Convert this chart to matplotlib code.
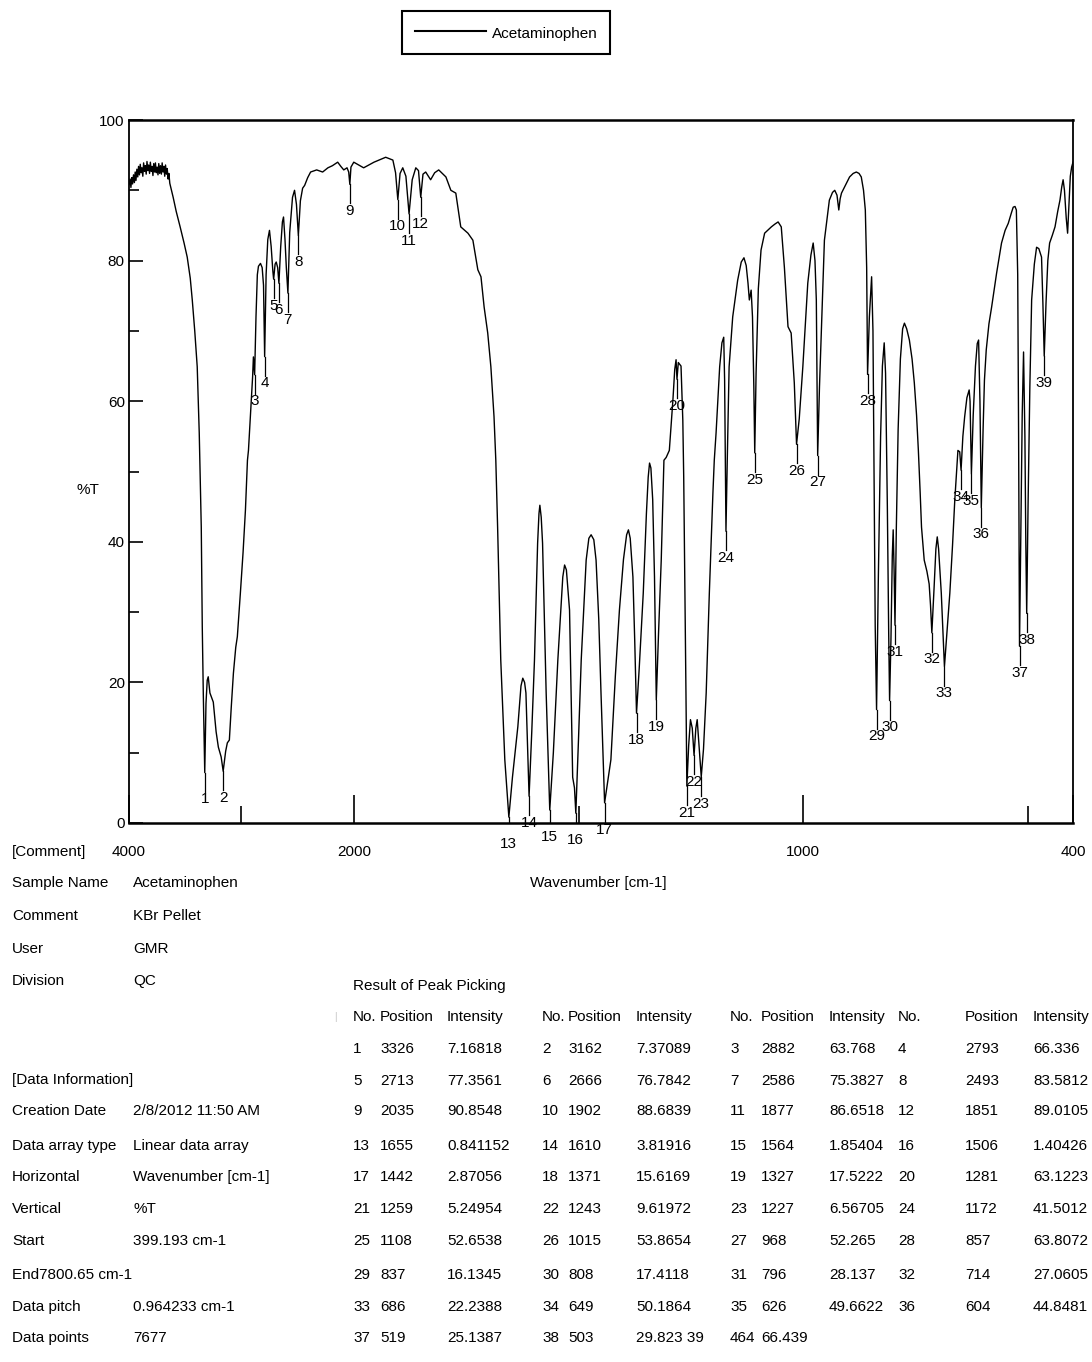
import numpy as np
import matplotlib.pyplot as plt

plt.rcParams['font.family'] = ['Liberation Sans', 'DejaVu Sans']
FS = 11

# IR trace: wavenumber (cm-1) and %T
wavenumber = [
    4000, 3990, 3983, 3975, 3968, 3960, 3952, 3945, 3938, 3930, 3922, 3915, 3907, 3900,
    3892, 3885, 3877, 3870, 3862, 3855, 3847, 3840, 3832, 3825, 3817, 3810, 3802, 3795,
    3787, 3780, 3772, 3765, 3757, 3750, 3742, 3735, 3727, 3720, 3712, 3705, 3697, 3690,
    3682, 3675, 3667, 3660, 3652, 3645, 3637, 3625, 3607, 3580, 3545, 3510, 3482, 3455,
    3437, 3415, 3393, 3375, 3357, 3348, 3339, 3326, 3315, 3304, 3295, 3280, 3250, 3225,
    3205, 3180, 3162, 3140, 3125, 3107, 3090, 3071, 3050, 3036, 3009, 2985, 2964, 2946,
    2937, 2911, 2900, 2893, 2887, 2882, 2870, 2858, 2848, 2830, 2815, 2803, 2793, 2780,
    2765, 2750, 2735, 2720, 2713, 2700, 2690, 2677, 2666, 2650, 2635, 2625, 2612, 2600,
    2586, 2570, 2545, 2527, 2510, 2493, 2475, 2455, 2437, 2410, 2384, 2330, 2277, 2230,
    2190, 2143, 2115, 2089, 2060, 2045, 2035, 2025, 2000, 1978, 1955, 1929, 1913, 1907,
    1902, 1897, 1891, 1884, 1877, 1870, 1862, 1856, 1851, 1846, 1840, 1829, 1820, 1811,
    1795, 1784, 1773, 1762, 1746, 1735, 1724, 1717, 1710, 1702, 1695, 1688, 1684, 1680,
    1673, 1664, 1655, 1647, 1635, 1628, 1624, 1620, 1617, 1610, 1604, 1598, 1591, 1588,
    1586, 1583, 1580, 1572, 1564, 1556, 1546, 1535, 1531, 1527, 1520, 1513, 1509, 1506,
    1500, 1494, 1483, 1477, 1472, 1466, 1461, 1455, 1450, 1442, 1436, 1428, 1418, 1409,
    1400, 1393, 1389, 1385, 1379, 1375, 1371, 1365, 1356, 1349, 1345, 1342, 1339, 1335,
    1331, 1327, 1322, 1316, 1310, 1305, 1298, 1290, 1286, 1283, 1281, 1278, 1272, 1268,
    1266, 1264, 1261, 1259, 1255, 1251, 1247, 1243, 1239, 1236, 1232, 1227, 1222, 1216,
    1209, 1201, 1198, 1194, 1186, 1181, 1177, 1175, 1172, 1169, 1165, 1157, 1146, 1138,
    1132, 1127, 1123, 1120, 1116, 1113, 1110, 1108, 1105, 1100, 1094, 1086, 1071, 1063,
    1056, 1049, 1042, 1034, 1027, 1020, 1015, 1009, 1001, 990, 983, 978, 974, 971,
    968, 964, 960, 953, 942, 935, 930, 925, 921, 918, 915, 908, 897, 889,
    882, 876, 871, 866, 862, 859, 857, 853, 848, 845, 842, 840, 837, 833,
    828, 824, 820, 817, 813, 810, 808, 805, 802, 800, 798, 796, 793, 789,
    784, 779, 775, 770, 764, 758, 753, 748, 744, 740, 737, 731, 725, 720,
    717, 714, 709, 705, 702, 699, 693, 686, 680, 674, 668, 663, 656, 652,
    649, 645, 641, 636, 631, 629, 626, 622, 617, 613, 610, 607, 604, 600,
    597, 593, 587, 581, 570, 559, 551, 544, 537, 533, 529, 526, 523, 521,
    519, 516, 513, 510, 507, 505, 503, 500, 496, 492, 486, 481, 476, 470,
    467, 464, 460, 456, 452, 446, 440, 434, 429, 425, 422, 419, 415, 412,
    409, 406, 403, 400]
transmittance = [
    90.8, 91.6, 90.4, 91.8, 90.9, 92.2, 91.1, 92.6, 91.4, 93.0, 91.9, 93.4, 92.2, 93.7,
    92.5, 93.2, 92.0, 93.9, 92.7, 93.5, 92.3, 94.1, 92.8, 93.6, 92.4, 94.0, 92.7, 93.4,
    92.1, 93.8, 92.6, 93.9, 92.5, 93.3, 92.2, 93.8, 92.4, 93.5, 92.3, 93.9, 92.6, 93.4,
    92.0, 93.6, 92.3, 93.1, 91.6, 92.4, 91.0, 90.2, 89.0, 87.0, 84.8, 82.5, 80.5, 77.5,
    74.4, 70.0, 64.9, 55.5, 42.1, 27.9, 18.5, 7.17, 17.0, 20.3, 20.8, 18.5, 17.2, 13.0,
    10.8, 9.4, 7.37, 10.2, 11.4, 11.8, 16.5, 21.3, 25.0, 26.5, 32.7, 38.5, 44.5, 51.6,
    53.0, 60.2, 63.5, 66.3, 65.0, 63.77, 72.0, 78.0, 79.2, 79.6, 79.0, 76.5, 66.34, 78.0,
    83.0, 84.3, 82.0, 78.5, 77.36, 79.5, 79.8, 79.0, 76.78, 82.0, 85.5, 86.2, 83.0, 79.0,
    75.38, 84.0, 89.0, 90.0, 88.0, 83.58, 88.5, 90.3, 90.7, 91.8, 92.6, 92.9, 92.6, 93.2,
    93.5, 94.0, 93.4, 92.9, 93.2, 92.6, 90.85, 93.3, 94.0, 93.2, 94.0, 94.7, 94.3, 92.5,
    88.68, 92.4, 93.2, 92.0, 86.65, 91.5, 93.2, 92.8, 89.01, 92.3, 92.6, 91.5, 92.5, 92.9,
    91.9, 90.0, 89.6, 84.8, 83.9, 82.9, 78.7, 77.7, 73.4, 69.7, 64.9, 57.8, 51.6, 42.1,
    23.2, 9.0, 0.84, 6.5, 13.7, 19.5, 20.6, 20.0, 18.5, 3.82, 13.0, 23.2, 39.8, 44.0,
    45.2, 43.5, 39.8, 18.5, 1.85, 10.0, 23.2, 35.0, 36.7, 36.0, 30.3, 6.5, 5.0, 1.40,
    12.0, 23.2, 37.4, 40.5, 41.0, 40.3, 37.4, 29.0, 18.5, 2.87, 5.5, 9.0, 21.0, 30.3,
    37.5, 41.0, 41.7, 40.5, 35.0, 26.0, 15.62, 22.0, 32.7, 44.0, 49.2, 51.2, 50.5, 46.0,
    35.0, 17.52, 27.0, 37.4, 51.6, 52.0, 53.0, 60.2, 64.5, 65.9, 63.12, 65.5, 65.0, 57.3,
    49.2, 37.4, 18.5, 5.25, 11.0, 14.7, 13.5, 9.62, 13.5, 14.7, 11.0, 6.57, 10.5, 18.5,
    32.7, 47.0, 51.6, 55.5, 64.9, 68.3, 69.1, 63.0, 41.5, 52.0, 64.9, 72.0, 77.2, 79.8,
    80.4, 79.3, 76.8, 74.4, 75.8, 72.0, 62.0, 52.65, 64.0, 76.0, 81.5, 83.9, 84.8, 85.2,
    85.5, 84.8, 79.0, 70.6, 69.7, 62.6, 53.87, 57.5, 64.9, 76.8, 80.8, 82.5, 80.0, 74.4,
    52.27, 62.0, 69.7, 82.9, 88.6, 89.7, 90.0, 89.3, 87.2, 88.8, 89.6, 90.5, 91.9, 92.4,
    92.6, 92.4, 91.9, 90.0, 87.2, 79.0, 63.81, 72.0, 77.7, 70.0, 45.0, 28.0, 16.13, 35.0,
    55.0, 65.0, 68.3, 64.0, 45.0, 27.0, 17.41, 26.0, 38.0, 41.7, 36.0, 28.14, 42.0, 56.0,
    66.0, 70.3, 71.1, 70.3, 68.7, 66.0, 62.6, 58.0, 53.0, 47.0, 42.1, 37.4, 35.8, 34.0,
    31.0, 27.06, 33.5, 39.0, 40.7, 39.0, 32.7, 22.24, 27.5, 32.7, 39.5, 45.9, 53.0, 52.8,
    50.19, 55.0, 57.8, 60.5, 61.6, 60.0, 49.66, 58.0, 65.0, 68.2, 68.7, 60.0, 44.85, 56.0,
    63.0, 67.3, 71.0, 73.4, 78.2, 82.5, 84.3, 85.3, 86.8, 87.6, 87.7, 87.2, 78.0, 55.0,
    25.14, 42.0, 58.0, 67.0, 55.0, 40.0, 29.82, 45.0, 62.0, 74.4, 79.5, 81.9, 81.7, 80.5,
    74.0, 66.44, 74.0, 80.0, 82.5, 83.6, 84.8, 87.0, 88.6, 90.5, 91.5, 90.0, 86.0, 83.9,
    88.0, 92.0, 93.3, 94.0]

# result of peak picking
peak_pos = [3326, 3162, 2882, 2793, 2713, 2666, 2586, 2493, 2035, 1902, 1877, 1851,
            1655, 1610, 1564, 1506, 1442, 1371, 1327, 1281, 1259, 1243, 1227, 1172,
            1108, 1015, 968, 857, 837, 808, 796, 714, 686, 649, 626, 604, 519, 503, 464]
peak_int = [7.16818, 7.37089, 63.768, 66.336, 77.3561, 76.7842, 75.3827, 83.5812,
            90.8548, 88.6839, 86.6518, 89.0105, 0.841152, 3.81916, 1.85404, 1.40426,
            2.87056, 15.6169, 17.5222, 63.1223, 5.24954, 9.61972, 6.56705, 41.5012,
            52.6538, 53.8654, 52.265, 63.8072, 16.1345, 17.4118, 28.137, 27.0605,
            22.2388, 50.1864, 49.6622, 44.8481, 25.1387, 29.823, 66.439]

# sample / data information block
sample_info = [('[Comment]', ''), ('Sample Name', 'Acetaminophen'), ('Comment', 'KBr Pellet'),
               ('User', 'GMR'), ('Division', 'QC')]
data_info = [('[Data Information]', ''), ('Creation Date', '2/8/2012 11:50 AM'),
             ('Data array type', 'Linear data array'), ('Horizontal', 'Wavenumber [cm-1]'),
             ('Vertical', '%T'), ('Start', '399.193 cm-1'), ('End7800.65 cm-1', ''),
             ('Data pitch', '0.964233 cm-1'), ('Data points', '7677')]

W, H = 1092, 1362


def px(x, y):
    return x / W, 1 - y / H


# x axis is compressed 4x above 2000 cm-1
def fwd(w):
    w = np.asarray(w, dtype=float)
    return np.where(w > 2000, 2000 + (w - 2000) / 4, w)


def inv(u):
    u = np.asarray(u, dtype=float)
    return np.where(u > 2000, 2000 + (u - 2000) * 4, u)


fig = plt.figure(figsize=(W / 100, H / 100), dpi=100)
ax = fig.add_axes([129 / W, 1 - 823 / H, 944 / W, 703 / H])
ax.set_xscale('function', functions=(fwd, inv))

line, = ax.plot(wavenumber, transmittance, color='black', lw=1.0, label='Acetaminophen')

for i, (p, t) in enumerate(zip(peak_pos, peak_int)):
    ax.plot([p, p], [t, t - 2.7], color='black', lw=0.9)
    ax.text(p, t - 2.8, str(i + 1), ha='center', va='top', fontsize=FS)

ax.set_xlim(4000, 400)
ax.set_ylim(0, 100)
ax.set_xticks([4000, 2000, 1000, 400])
ax.set_xticklabels(['4000', '2000', '1000', '400'])
ax.set_xticks([3000, 1500, 500], minor=True)
ax.set_yticks([0, 20, 40, 60, 80, 100])
ax.set_yticks([10, 30, 50, 70, 90], minor=True)
ax.tick_params(axis='x', which='major', direction='in', length=20, width=1.2, pad=15.5, labelsize=FS)
ax.tick_params(axis='x', which='minor', direction='in', length=12, width=1.2)
ax.tick_params(axis='y', which='major', direction='in', length=10, width=1.2, pad=3, labelsize=FS)
ax.tick_params(axis='y', which='minor', direction='in', length=7, width=1.2)
for side in ['top', 'bottom']:
    ax.spines[side].set_linewidth(1.8)
for side in ['left', 'right']:
    ax.spines[side].set_linewidth(1.3)

ax.set_xlabel('Wavenumber [cm-1]', fontsize=FS, va='center')
ax.xaxis.set_label_coords((598 - 129) / 944, (823 - 883) / 703)
ax.set_ylabel('%T', fontsize=FS, rotation=0, va='center', ha='center')
ax.yaxis.set_label_coords((88 - 129) / 944, (823 - 490) / 703)

leg = fig.legend(handles=[line], loc='center', bbox_to_anchor=px(506, 32.5), fontsize=FS,
                 fancybox=False, edgecolor='black', framealpha=1, handlelength=4.7,
                 handleheight=1.4, handletextpad=0.35, borderpad=0.8)
leg.get_frame().set_linewidth(1.5)
leg.get_lines()[0].set_linewidth(1.5)

# info text at the lower left
info_y = [852, 883, 916, 949, 981]
for (lab, val), y in zip(sample_info, info_y):
    fig.text(*px(12, y), lab, va='center', ha='left', fontsize=FS)
    fig.text(*px(133, y), val, va='center', ha='left', fontsize=FS)

row_y = [1049, 1081, 1111, 1146, 1177, 1209, 1241, 1275, 1307, 1338]
data_y = [1080] + row_y[2:]
for (lab, val), y in zip(data_info, data_y):
    fig.text(*px(12, y), lab, va='center', ha='left', fontsize=FS)
    fig.text(*px(133, y), val, va='center', ha='left', fontsize=FS)

# peak table
fig.text(*px(353, 986), 'Result of Peak Picking', va='center', ha='left', fontsize=FS)
fig.text(*px(335, 1017), '|', va='center', ha='center', fontsize=7, color='#c0c0c0')
col_x = [(353, 380, 447), (542, 568, 636), (730, 761, 829), (898, 965, 1033)]
for cx in col_x:
    for x, h in zip(cx, ['No.', 'Position', 'Intensity']):
        fig.text(*px(x, 1017), h, va='center', ha='left', fontsize=FS)

n_peaks = len(peak_pos)
for k in range(n_peaks):
    row, g = divmod(k, 4)
    cells = [str(k + 1), str(peak_pos[k]), f'{peak_int[k]:g}']
    if k == n_peaks - 2:
        cells[2] = f'{peak_int[k]:g} {k + 2}'
    if k == n_peaks - 1:
        cells = [str(peak_pos[k]), f'{peak_int[k]:g}', '']
    for x, s in zip(col_x[g], cells):
        fig.text(*px(x, row_y[row]), s, va='center', ha='left', fontsize=FS)

fig.savefig('out.png', dpi=100)
